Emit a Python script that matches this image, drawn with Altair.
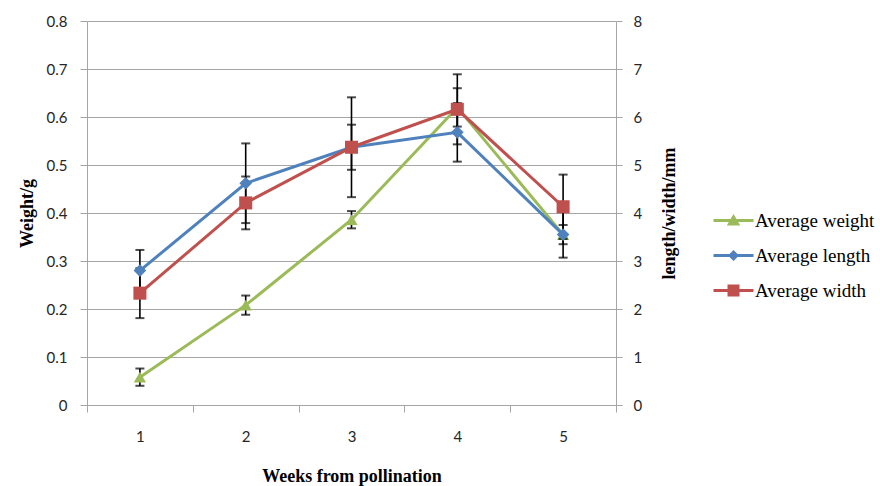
import altair as alt
import pandas as pd

# ---- data ----
weeks = ["1", "2", "3", "4", "5"]
weight = [0.058, 0.208, 0.386, 0.620, 0.355]
weight_err = [0.018, 0.020, 0.018, 0.040, 0.020]
length = [2.80, 4.62, 5.37, 5.68, 3.55]
length_err = [0.43, 0.83, 1.04, 0.61, 0.48]
width = [2.33, 4.21, 5.37, 6.16, 4.13]
width_err = [0.52, 0.55, 0.47, 0.73, 0.67]

series_names = ["Average weight", "Average length", "Average width"]
series_colors = ["#9BBB59", "#4F81BD", "#C0504D"]

left_ticks = [0, 0.1, 0.2, 0.3, 0.4, 0.5, 0.6, 0.7, 0.8]
right_ticks = [0, 1, 2, 3, 4, 5, 6, 7, 8]

# legend symbols: line segment + marker (custom SVG paths)
LINE = "M-4,-0.3L4,-0.3L4,0.3L-4,0.3Z"
legend_paths = [
    LINE + "M0,-1.3L1.35,1.0L-1.35,1.0Z",
    LINE + "M0,-1.1L1.1,0L0,1.1L-1.1,0Z",
    LINE + "M-1.2,-1.2L1.2,-1.2L1.2,1.2L-1.2,1.2Z",
]


def frame(vals, errs):
    return pd.DataFrame({
        "week": weeks,
        "value": vals,
        "lo": [v - e for v, e in zip(vals, errs)],
        "hi": [v + e for v, e in zip(vals, errs)],
    })


wdf = frame(weight, weight_err)
ldf = frame(length, length_err)
hdf = frame(width, width_err)
legend_df = pd.DataFrame({"series": series_names})

GRID = "#a6a6a6"
SERIF = "Liberation Serif"
SANS = "Lato"

X = alt.X(
    "week:O",
    scale=alt.Scale(domain=weeks, paddingInner=0, paddingOuter=0),
    axis=alt.Axis(
        title="Weeks from pollination", labelAngle=0, tickBand="extent",
        tickSize=7, tickColor=GRID, domainColor=GRID, labelPadding=17,
        labelFont=SANS, labelFontSize=15, labelColor="#262626",
        titleFont=SERIF, titleFontSize=18, titleFontWeight="bold",
        titleColor="black", titlePadding=23, grid=False,
    ),
)


def y_left(field):
    return alt.Y(
        f"{field}:Q",
        scale=alt.Scale(domain=[0, 0.8], nice=False, zero=True),
        axis=alt.Axis(
            title="Weight/g", values=left_ticks, format="~g",
            grid=True, gridColor=GRID, domainColor=GRID, tickColor=GRID,
            tickSize=7, labelPadding=13, labelFont=SANS, labelFontSize=15,
            labelColor="#262626", titleFont=SERIF, titleFontSize=18,
            titleFontWeight="bold", titleColor="black", titlePadding=10,
        ),
    )


def y_right(field):
    return alt.Y(
        f"{field}:Q",
        scale=alt.Scale(domain=[0, 8], nice=False, zero=True),
        axis=alt.Axis(
            title="length/width/mm", orient="right", values=right_ticks,
            grid=False, domainColor=GRID, tickColor=GRID, tickSize=6,
            labelPadding=11, labelFont=SANS, labelFontSize=15,
            labelColor="#262626", titleFont=SERIF, titleFontSize=18,
            titleFontWeight="bold", titleColor="black", titleAngle=270,
            titlePadding=37,
        ),
    )


def err_layers(df, yfn):
    base = alt.Chart(df)
    rule = base.mark_rule(color="black", strokeWidth=1.6).encode(
        x=X, y=yfn("lo"), y2="hi")
    cap_lo = base.mark_tick(color="black", size=9, thickness=2).encode(
        x=X, y=yfn("lo"))
    cap_hi = base.mark_tick(color="black", size=9, thickness=2).encode(
        x=X, y=yfn("hi"))
    return [rule, cap_lo, cap_hi]


def line_layer(df, yfn, color):
    return alt.Chart(df).mark_line(color=color, strokeWidth=3).encode(
        x=X, y=yfn("value"))


def point_layer(df, yfn, color, shape, size):
    return alt.Chart(df).mark_point(
        filled=True, color=color, shape=shape, size=size, opacity=1).encode(
        x=X, y=yfn("value"))


legend_layer = alt.Chart(legend_df).mark_point(
    filled=True, opacity=0, size=100).encode(
    color=alt.Color("series:N", scale=alt.Scale(domain=series_names, range=series_colors),
                    legend=alt.Legend(title=None)),
    shape=alt.Shape("series:N", scale=alt.Scale(domain=series_names, range=legend_paths),
                    legend=alt.Legend(title=None)),
)

left_group = alt.layer(
    *err_layers(wdf, y_left),
    line_layer(wdf, y_left, series_colors[0]),
    point_layer(wdf, y_left, series_colors[0], "triangle-up", 150),
    legend_layer,
)
right_group = alt.layer(
    *err_layers(ldf, y_right),
    *err_layers(hdf, y_right),
    line_layer(ldf, y_right, series_colors[1]),
    line_layer(hdf, y_right, series_colors[2]),
    point_layer(ldf, y_right, series_colors[1], "diamond", 160),
    point_layer(hdf, y_right, series_colors[2], "square", 170),
)

chart = alt.layer(left_group, right_group).resolve_scale(y="independent").properties(
    width=529, height=384,
    autosize=alt.AutoSizeParams(type="none"),
    padding={"left": 87, "top": 21, "right": 264, "bottom": 81},
    background="white",
).configure_view(stroke=None).configure_legend(
    orient="none", legendX=637, legendY=190, padding=0,
    labelFont=SERIF, labelFontSize=19, labelColor="black",
    symbolSize=100, labelOffset=12, rowPadding=15,
    symbolStrokeWidth=0, symbolOpacity=1,
)

chart.save("out.html", embed_options={"renderer": "svg", "actions": False})
